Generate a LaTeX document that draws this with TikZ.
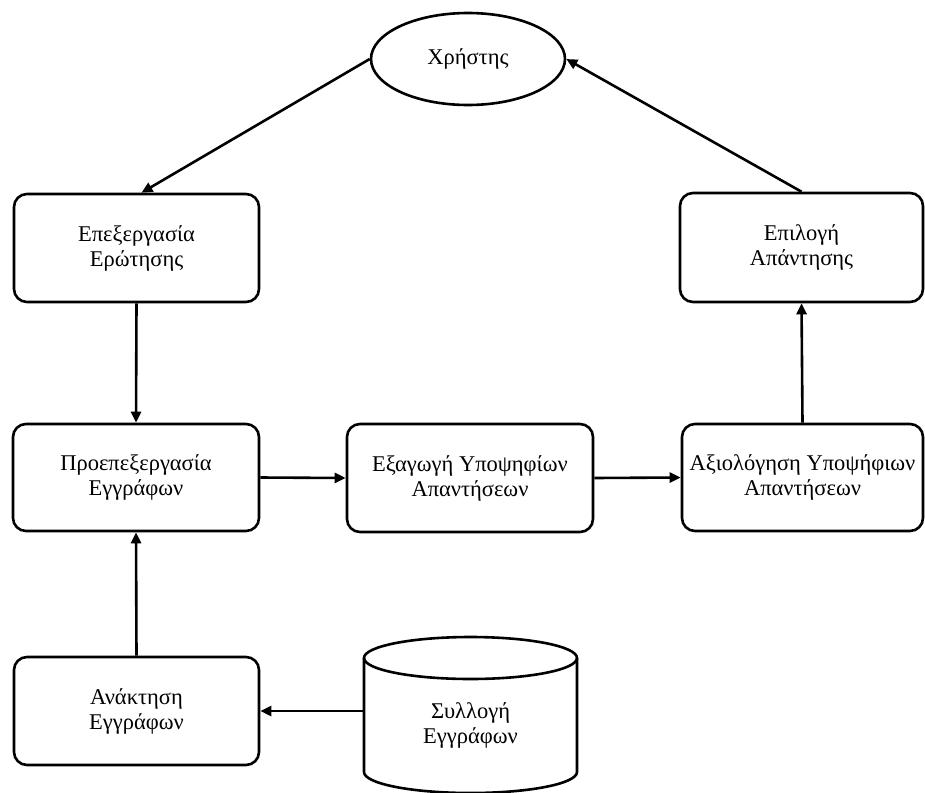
\documentclass[tikz,border=0pt]{standalone}
\usepackage{fontspec}
\setmainfont{Liberation Serif}
\usetikzlibrary{arrows.meta,shapes.geometric}
\tikzset{
  txt/.style={font=\fontsize{22.5}{25}\selectfont},
  box/.style={draw, line width=2.6pt, rounded corners=13pt, align=center,
    txt, inner sep=0pt},
  arr/.style={line width=2.6pt, -{Triangle[length=11pt,width=10pt]}},
  lbl/.style={align=center, txt, inner sep=0pt}
}
\begin{document}
\begin{tikzpicture}[x=1pt,y=-1pt]
\useasboundingbox (0,0) rectangle (925,792);
\node[draw, ellipse, line width=2.6pt, minimum width=194pt, minimum height=92pt,
  inner sep=0pt, txt] (user) at (468,59) {Χρήστης};
\node[box, minimum width=245pt, minimum height=108pt] (query) at (136.5,248) {Επεξεργασία\\Ερώτησης};
\node[box, minimum width=243pt, minimum height=109pt] (select) at (801.5,247.5) {Επιλογή\\Απάντησης};
\node[box, minimum width=246pt, minimum height=107pt] (prep) at (136,477.5) {Προεπεξεργασία\\Εγγράφων};
\node[box, minimum width=246pt, minimum height=108pt] (extr) at (470,478) {Εξαγωγή Υποψηφίων\\Απαντήσεων};
\node[box, minimum width=241pt, minimum height=107pt] (eval) at (802.5,477.5) {Αξιολόγηση Υποψήφιων\\Απαντήσεων};
\node[box, minimum width=245pt, minimum height=108pt] (retr) at (136.5,711) {Ανάκτηση\\Εγγράφων};
% cylinder
\draw[line width=2.6pt] (470.5,658) ellipse[x radius=106.5pt, y radius=21pt];
\draw[line width=2.6pt] (364,658) -- (364,772)
  arc[start angle=180, end angle=360, x radius=106.5pt, y radius=21pt] -- (577,658);
\node[lbl, minimum width=213pt] (coll) at (470.5,725) {Συλλογή\\Εγγράφων};
% connectors
\draw[arr] (user.west) -- ([xshift=5pt]query.north);
\draw[arr] (select.north) -- (user.east);
\draw[arr] (query.south) -- (prep.north);
\draw[arr] (prep.east) -- (extr.west);
\draw[arr] (extr.east) -- (eval.west);
\draw[arr] (eval.north) -- (select.south);
\draw[arr] (retr.north) -- (prep.south);
\draw[arr] (coll.west |- retr.east) -- (retr.east);
\end{tikzpicture}
\end{document}
